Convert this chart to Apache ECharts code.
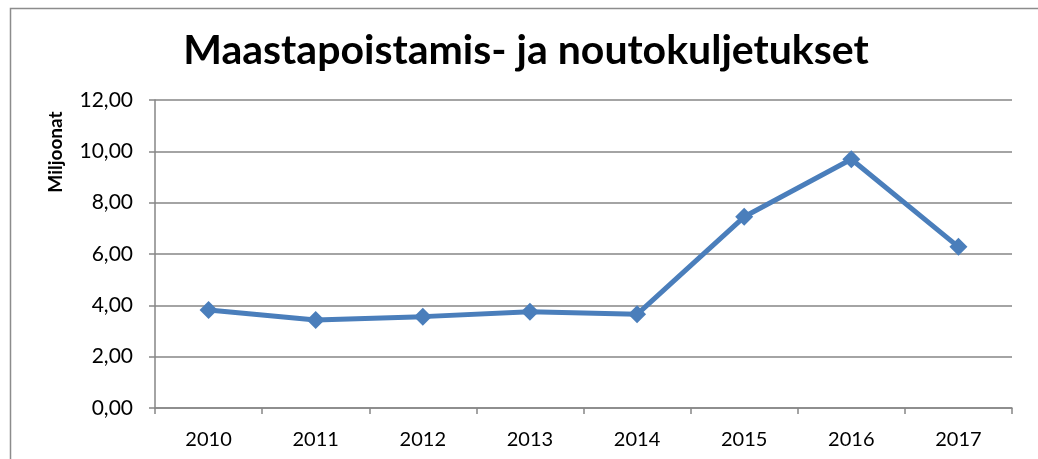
<!DOCTYPE html>
<html>
<head>
    <meta charset="UTF-8" />
    <title>Maastapoistamis- ja noutokuljetukset</title>
    <script src="https://cdn.jsdelivr.net/npm/echarts@6/dist/echarts.min.js"></script>
    <style>
        html, body { margin: 0; padding: 0; background: #fff; }
    </style>
</head>
<body>
    <div id="chart" style="width: 1038px; height: 459px;"></div>

    <script type="text/javascript">
        // data
        var years = ['2010', '2011', '2012', '2013', '2014', '2015', '2016', '2017'];
        var values = [3.82, 3.43, 3.56, 3.75, 3.65, 7.45, 9.69, 6.28];
        var yTicks = [0, 2, 4, 6, 8, 10, 12];

        var axisGray = '#868686';
        var chart = echarts.init(document.getElementById('chart'));

        var option = {
            animation: false,
            backgroundColor: '#fff',
            title: {
                text: 'Maastapoistamis- ja noutokuljetukset',
                left: 521,
                top: 25,
                textAlign: 'center',
                textStyle: {
                    fontFamily: 'Lato',
                    fontWeight: 'bold',
                    fontSize: 41,
                    color: '#000'
                }
            },
            graphic: [
                {
                    // outer chart frame (only top and left edges visible)
                    type: 'rect',
                    shape: { x: 10.5, y: 8.5, width: 1100, height: 600 },
                    style: { fill: null, stroke: '#8c8c8c', lineWidth: 1.5 },
                    silent: true
                },
                {
                    type: 'text',
                    x: 56,
                    y: 152,
                    rotation: Math.PI / 2,
                    style: {
                        text: 'Miljoonat',
                        font: 'bold 19px Lato',
                        fill: '#000',
                        align: 'center',
                        verticalAlign: 'middle'
                    }
                }
            ],
            grid: {
                left: 155,
                right: 26,
                top: 100,
                bottom: 51
            },
            xAxis: {
                type: 'category',
                data: years,
                boundaryGap: true,
                axisLine: { lineStyle: { color: axisGray, width: 1.5 } },
                axisTick: { show: true, length: 6, lineStyle: { color: axisGray, width: 1.5 } },
                axisLabel: {
                    color: '#000',
                    fontFamily: 'Lato',
                    fontSize: 20,
                    margin: 22
                }
            },
            yAxis: {
                type: 'value',
                min: yTicks[0],
                max: yTicks[yTicks.length - 1],
                interval: 2,
                axisLine: { show: true, lineStyle: { color: axisGray, width: 1.5 } },
                axisTick: { show: true, length: 6, lineStyle: { color: axisGray, width: 1.5 } },
                splitLine: { lineStyle: { color: axisGray, width: 1.5 } },
                axisLabel: {
                    color: '#000',
                    fontFamily: 'Lato',
                    fontSize: 21,
                    margin: 22,
                    formatter: function (v) {
                        return v.toFixed(2).replace('.', ',');
                    }
                }
            },
            series: [
                {
                    type: 'line',
                    data: values,
                    symbol: 'diamond',
                    symbolSize: 18,
                    lineStyle: { color: '#4a7ebb', width: 5 },
                    itemStyle: { color: '#4a7ebb' }
                }
            ]
        };
        chart.setOption(option);
    </script>
</body>
</html>
